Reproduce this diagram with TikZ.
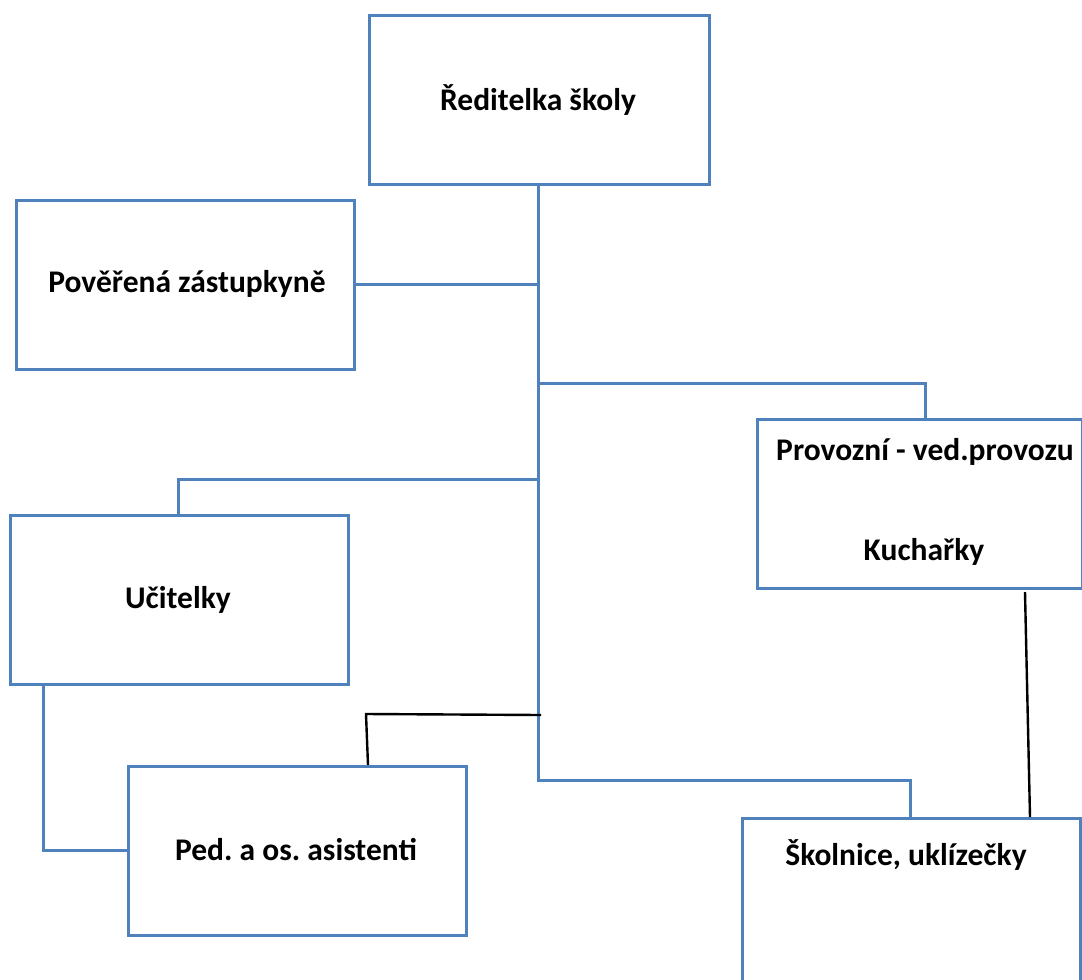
\documentclass[tikz,border=0pt]{standalone}
\usepackage{fontspec}
\setmainfont{Carlito}
\frenchspacing
\begin{document}
\begin{tikzpicture}[x=1pt,y=-1pt,
  box/.style={draw=boxblue,line width=2.8pt,fill=white,anchor=north west,inner sep=0pt},
  lbl/.style={font=\bfseries\fontsize{31.5}{36}\selectfont,text=black},
  conn/.style={draw=boxblue,line width=3pt},
  blk/.style={draw=black,line width=2.4pt}]
\definecolor{boxblue}{HTML}{4F81BD}
\useasboundingbox (0,0) rectangle (1082,980);
% boxes
\node[box,minimum width=340pt,minimum height=169pt] (dir) at (368,14) {};
\node[box,minimum width=338pt,minimum height=169pt] (zas) at (15,199) {};
\node[box,minimum width=325pt,minimum height=169pt] (prov) at (756,418) {};
\node[box,minimum width=338pt,minimum height=169pt] (uc) at (9,514) {};
\node[box,minimum width=338pt,minimum height=169pt] (ped) at (127,765) {};
\node[box,minimum width=338pt,minimum height=175pt] (sk) at (741,817) {};
% labels
\node[lbl] (tdir) at (538,100) {Ředitelka školy};
\node[lbl] (tzas) at (187,284) {Pověřená zástupkyně};
\node[lbl] (tprov) at (925,452) {Provozní - ved.provozu};
\node[lbl] (tkuch) at (924,552) {Kuchařky};
\node[lbl] (tuc) at (178,600) {Učitelky};
\node[lbl] (tped) at (296,850) {Ped. a os. asistenti};
\node[lbl] (tsk) at (906,855) {Školnice, uklízečky};
% coordinates
\coordinate (t0) at (538,183);
\coordinate (t1) at (538,284);
\coordinate (t2) at (538,383);
\coordinate (t3) at (538,479);
\coordinate (t4) at (538,780);
\coordinate (p1) at (925,383);
\coordinate (p2) at (925,418);
\coordinate (u1) at (178,479);
\coordinate (u2) at (178,514);
\coordinate (s1) at (910,780);
\coordinate (s2) at (910,817);
\coordinate (z1) at (353,284);
\coordinate (l1) at (43,683);
\coordinate (l2) at (43,850);
\coordinate (l3) at (127,850);
\coordinate (b1) at (541,715);
\coordinate (b2) at (366,714);
\coordinate (b3) at (368,765);
\coordinate (k1) at (1025,592);
\coordinate (k2) at (1030,817);
% connectors
\draw[conn] (t0) -- (t4) -- (s1) -- (s2);
\draw[conn] (z1) -- (t1);
\draw[conn] (t2) -- (p1) -- (p2);
\draw[conn] (t3) -- (u1) -- (u2);
\draw[conn] (l1) -- (l2) -- (l3);
\draw[blk] (b1) -- (b2) -- (b3);
\draw[blk] (k1) -- (k2);
\end{tikzpicture}
\end{document}
